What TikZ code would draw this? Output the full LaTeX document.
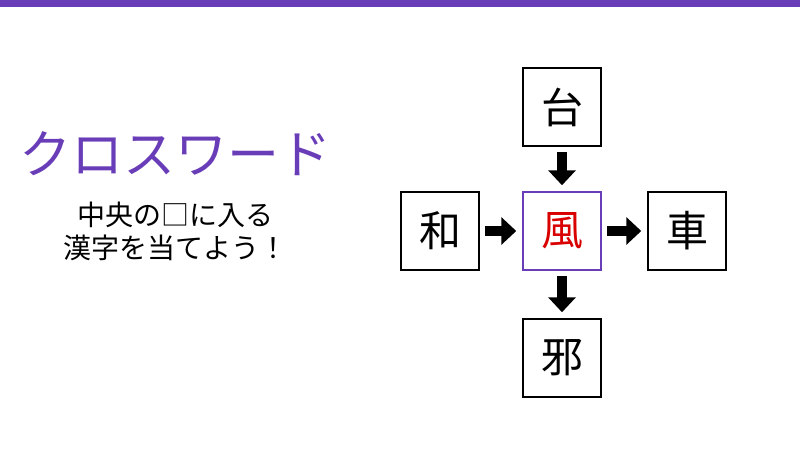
\documentclass[tikz,border=0pt]{standalone}
\usepackage{fontspec}
\setmainfont{Noto Sans CJK JP}
\usetikzlibrary{arrows.meta}
\definecolor{pur}{HTML}{6A3DB8}
\begin{document}
\begin{tikzpicture}[x=1pt,y=-1pt,
  box/.style={draw=black,line width=1.5pt,minimum size=78pt,inner sep=0pt,font=\fontsize{42}{42}\selectfont},
  arr/.style={line width=10pt,-{Triangle[width=27pt,length=15pt]},shorten <=5pt,shorten >=6pt}]
\useasboundingbox (0,0) rectangle (800,450);
\fill[pur] (0,0) rectangle (800,7);
\node[text=pur,font=\fontsize{52}{52}\selectfont] (title) at (175,154) {クロスワード};
\node[align=center,font=\fontsize{28}{33}\selectfont] (sub) at (175,231) {中央の□に入る\\漢字を当てよう！};
\node[box] (t) at (562,107) {台};
\node[box,draw=pur,text=red!85!black] (c) at (562,231) {風};
\node[box] (l) at (440,231) {和};
\node[box] (r) at (687,231) {車};
\node[box] (b) at (562,358) {邪};
\draw[arr] (t) -- (c);
\draw[arr] (l) -- (c);
\draw[arr] (c) -- (r);
\draw[arr] (c) -- (b);
\end{tikzpicture}
\end{document}
